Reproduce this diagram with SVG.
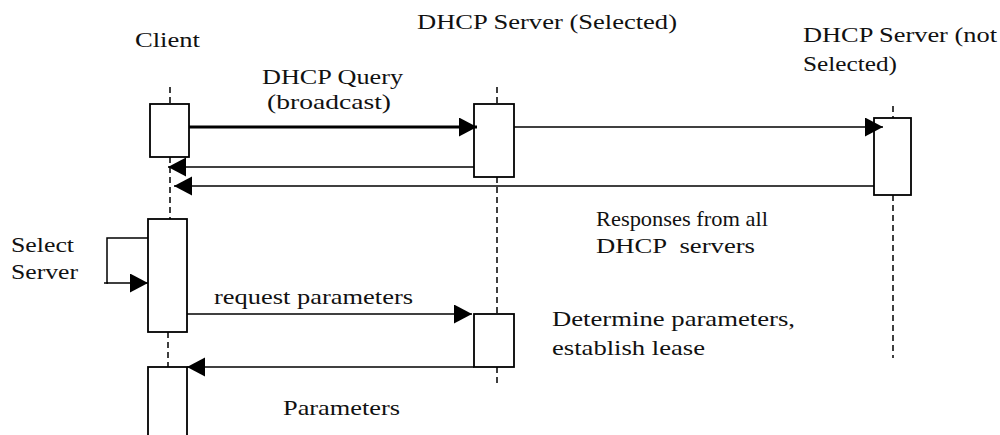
<svg xmlns="http://www.w3.org/2000/svg" width="1000" height="435" viewBox="0 0 1000 435">
  <style>
    .t { font-family: 'Liberation Serif', 'Tinos', 'Times New Roman', 'Times', 'DejaVu Serif', 'Noto Serif', serif; font-size: 22px; fill: #111; }
    .box { fill: #fff; stroke: #000; stroke-width: 1.8; }
    .life { stroke: #000; stroke-width: 1.5; stroke-dasharray: 6 4; fill: none; }
    .msg { stroke: #000; stroke-width: 1.5; fill: none; }
  </style>
  <defs>
    <marker id="ah" markerWidth="20" markerHeight="20" refX="18" refY="9.5" orient="auto" markerUnits="userSpaceOnUse">
      <path d="M0,0 L18,9.5 L0,19 Z" fill="#000"/>
    </marker>
  </defs>

  <g id="lifelines">
    <line class="life" x1="170" y1="87" x2="170" y2="104"/>
    <line class="life" x1="170" y1="157" x2="170" y2="219"/>
    <line class="life" x1="168" y1="332" x2="168" y2="367"/>
    <line class="life" x1="497" y1="87" x2="497" y2="104"/>
    <line class="life" x1="497" y1="177" x2="497" y2="314"/>
    <line class="life" x1="497" y1="367" x2="497" y2="385"/>
    <line class="life" x1="893" y1="106" x2="893" y2="118"/>
    <line class="life" x1="893" y1="195" x2="893" y2="358"/>
  </g>

  <g id="client" class="t">
    <text x="135" y="47" textLength="65" lengthAdjust="spacingAndGlyphs">Client</text>
    <rect class="box" x="150" y="104" width="39" height="53"/>
    <rect class="box" x="148" y="219" width="39" height="113"/>
    <rect class="box" x="148" y="367" width="39" height="80"/>
  </g>

  <g id="server-selected" class="t">
    <text x="417" y="29" textLength="260" lengthAdjust="spacingAndGlyphs">DHCP Server (Selected)</text>
    <rect class="box" x="474" y="104" width="40" height="73"/>
    <rect class="box" x="474" y="314" width="40" height="53"/>
  </g>

  <g id="server-not-selected" class="t">
    <text x="803" y="42" textLength="194" lengthAdjust="spacingAndGlyphs">DHCP Server (not</text>
    <text x="803" y="71" textLength="94" lengthAdjust="spacingAndGlyphs">Selected)</text>
    <rect class="box" x="874" y="118" width="37" height="77"/>
  </g>

  <g id="connectors">
    <line x1="189" y1="127" x2="477" y2="127" stroke="#000" stroke-width="3" marker-end="url(#ah)"/>
    <line class="msg" x1="514" y1="127" x2="883" y2="127" marker-end="url(#ah)"/>
    <line class="msg" x1="474" y1="167" x2="168" y2="167" marker-end="url(#ah)"/>
    <line class="msg" x1="874" y1="186" x2="174" y2="186" marker-end="url(#ah)"/>
    <polyline class="msg" points="148,238 107,238 107,283 148,283" marker-end="url(#ah)"/>
    <line class="msg" x1="104" y1="283" x2="108" y2="283"/>
    <line class="msg" x1="187" y1="314" x2="472" y2="314" marker-end="url(#ah)"/>
    <line class="msg" x1="474" y1="367" x2="187" y2="367" marker-end="url(#ah)"/>
  </g>

  <g id="labels" class="t">
    <text x="262" y="84" textLength="141" lengthAdjust="spacingAndGlyphs">DHCP Query</text>
    <text x="267" y="109" textLength="124" lengthAdjust="spacingAndGlyphs">(broadcast)</text>
    <text x="596" y="226" textLength="172" lengthAdjust="spacingAndGlyphs">Responses from all</text>
    <text x="596" y="253" textLength="159" lengthAdjust="spacingAndGlyphs" xml:space="preserve">DHCP  servers</text>
    <text x="11" y="252" textLength="63" lengthAdjust="spacingAndGlyphs">Select</text>
    <text x="11" y="279" textLength="67" lengthAdjust="spacingAndGlyphs">Server</text>
    <text x="214" y="304" textLength="199" lengthAdjust="spacingAndGlyphs">request parameters</text>
    <text x="552" y="326" textLength="243" lengthAdjust="spacingAndGlyphs">Determine parameters,</text>
    <text x="552" y="355" textLength="153" lengthAdjust="spacingAndGlyphs">establish lease</text>
    <text x="283" y="415" textLength="117" lengthAdjust="spacingAndGlyphs">Parameters</text>
  </g>
</svg>
